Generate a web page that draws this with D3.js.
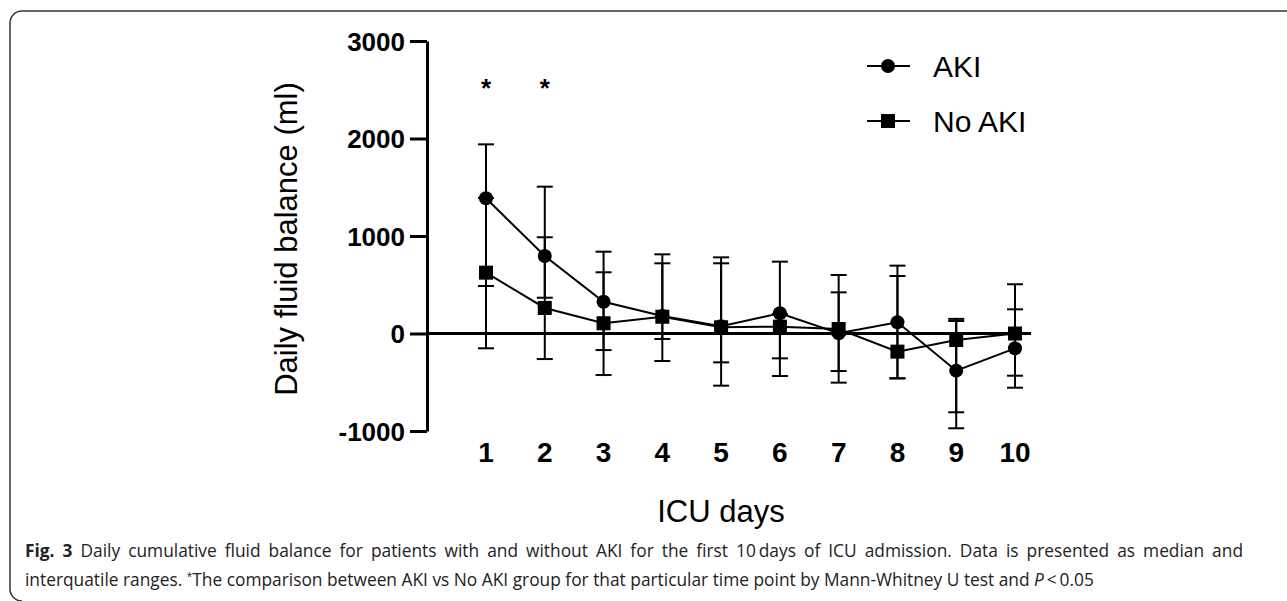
<!DOCTYPE html>
<html>
<head>
<meta charset="utf-8">
<script src="https://cdn.jsdelivr.net/npm/d3@7"></script>
<style>
  html, body { margin: 0; padding: 0; background: #fff; }
  svg { display: block; }
</style>
</head>
<body>
<div id="chart"></div>
<script>
// jours en unité de soins intensifs
var days = [1, 2, 3, 4, 5, 6, 7, 8, 9, 10];
// groupe AKI : médiane et intervalle interquartile
var akiMedian = [1387, 795, 326, 180, 75, 207, 2, 115, -381, -152];
var akiLow    = [487, 367, -426, -282, -535, -436, -504, -460, -972, -556];
var akiHigh   = [1940, 1506, 839, 812, 781, 737, 600, 696, 128, 505];
// groupe No AKI
var noAkiMedian = [624, 262, 105, 172, 64, 70, 46, -186, -67, 0];
var noAkiLow    = [-152, -262, -170, -56, -296, -255, -385, -460, -808, -433];
var noAkiHigh   = [1390, 987, 628, 720, 720, 200, 422, 590, 150, 248];
// ticks et jours significatifs
var yTicks = [-1000, 0, 1000, 2000, 3000];
var yTickLabels = ['-1000', '0', '1000', '2000', '3000'];
var signifDays = [1, 2];

var W = 1287, H = 601;
var svg = d3.select('#chart').append('svg').attr('width', W).attr('height', H);

// cadre arrondi de la figure
svg.append('path')
  .attr('d', 'M1290,11 H22 A12,12 0 0 0 10,23 V589 A12,12 0 0 0 22,601')
  .attr('fill', 'none').attr('stroke', '#333').attr('stroke-width', 1.5);

var x = d3.scaleLinear().domain([1, 10]).range([486, 1015]);
var y = d3.scaleLinear().domain([-1000, 3000]).range([431, 41]);
var axisX = 427;
var font = 'Liberation Sans, Arial, Helvetica, sans-serif';

// axe y
var gy = svg.append('g').attr('transform', 'translate(' + axisX + ',0)')
  .call(d3.axisLeft(y).tickValues(yTicks).tickSize(17).tickSizeOuter(0).tickPadding(5)
    .tickFormat(function(d, i){ return yTickLabels[i]; }));
gy.select('.domain').attr('stroke', '#000').attr('stroke-width', 3);
gy.selectAll('.tick line').attr('stroke', '#000').attr('stroke-width', 3);
gy.selectAll('.tick text').attr('fill', '#000').style('font-family', font)
  .style('font-size', '26px').style('font-weight', 'bold').attr('dy', '0.36em');

// ligne du zéro
svg.append('line')
  .attr('x1', axisX).attr('x2', 1031).attr('y1', y(0)).attr('y2', y(0))
  .attr('stroke', '#000').attr('stroke-width', 3);

// labels des jours
svg.append('g').selectAll('text').data(days).enter().append('text')
  .attr('x', function(d){ return x(d); }).attr('y', 462)
  .attr('text-anchor', 'middle').style('font-family', font)
  .style('font-size', '28px').style('font-weight', 'bold').text(function(d){ return d; });

// titres des axes
svg.append('text')
  .attr('transform', 'translate(297,239) rotate(-90)')
  .attr('text-anchor', 'middle').style('font-family', font).style('font-size', '31px')
  .text('Daily fluid balance (ml)');
svg.append('text')
  .attr('x', 721).attr('y', 522).attr('text-anchor', 'middle')
  .style('font-family', font).style('font-size', '31px').text('ICU days');

function series(med, lo, hi){
  var data = days.map(function(d, i){ return {d: d, m: med[i], lo: lo[i], hi: hi[i]}; });
  var g = svg.append('g');
  // barres d'erreur
  var eb = g.append('g').selectAll('g').data(data).enter().append('g');
  eb.append('line').attr('x1', function(p){ return x(p.d); }).attr('x2', function(p){ return x(p.d); })
    .attr('y1', function(p){ return y(p.lo); }).attr('y2', function(p){ return y(p.hi); })
    .attr('stroke', '#000').attr('stroke-width', 2);
  [ 'lo', 'hi' ].forEach(function(k){
    eb.append('line').attr('x1', function(p){ return x(p.d) - 8; }).attr('x2', function(p){ return x(p.d) + 8; })
      .attr('y1', function(p){ return y(p[k]); }).attr('y2', function(p){ return y(p[k]); })
      .attr('stroke', '#000').attr('stroke-width', 2);
  });
  // ligne des médianes
  g.append('path').datum(data)
    .attr('d', d3.line().x(function(p){ return x(p.d); }).y(function(p){ return y(p.m); }))
    .attr('fill', 'none').attr('stroke', '#000').attr('stroke-width', 2);
  return {g: g, data: data};
}

var noAki = series(noAkiMedian, noAkiLow, noAkiHigh);
var aki = series(akiMedian, akiLow, akiHigh);

// marqueurs
noAki.g.selectAll('rect.mk').data(noAki.data).enter().append('rect').attr('class', 'mk')
  .attr('x', function(p){ return x(p.d) - 7; }).attr('y', function(p){ return y(p.m) - 7; })
  .attr('width', 14).attr('height', 14).attr('fill', '#000');
aki.g.selectAll('circle.mk').data(aki.data).enter().append('circle').attr('class', 'mk')
  .attr('cx', function(p){ return x(p.d); }).attr('cy', function(p){ return y(p.m); })
  .attr('r', 7).attr('fill', '#000');

// astérisques
svg.append('g').selectAll('text').data(signifDays).enter().append('text')
  .attr('x', function(d){ return x(d); }).attr('y', 97).attr('text-anchor', 'middle')
  .style('font-family', font).style('font-size', '26px').style('font-weight', 'bold').text('*');

// légende
var leg = svg.append('g');
[{name: 'AKI', y: 66, shape: 'circle'}, {name: 'No AKI', y: 121, shape: 'square'}].forEach(function(l){
  leg.append('line').attr('x1', 867).attr('x2', 910).attr('y1', l.y).attr('y2', l.y)
    .attr('stroke', '#000').attr('stroke-width', 2);
  if(l.shape == 'circle'){
    leg.append('circle').attr('cx', 888).attr('cy', l.y).attr('r', 7).attr('fill', '#000');
  }
  else{
    leg.append('rect').attr('x', 881).attr('y', l.y - 7).attr('width', 14).attr('height', 14).attr('fill', '#000');
  }
  leg.append('text').attr('x', 933).attr('y', l.y + 11).style('font-family', font)
    .style('font-size', '30px').text(l.name);
});

// légende de la figure (première ligne justifiée)
var capFont = 'Open Sans, Noto Sans, sans-serif';
var cap1 = svg.append('text').attr('x', 25).attr('y', 557).style('font-family', capFont)
  .style('font-size', '17px').attr('fill', '#222');
cap1.append('tspan').style('font-weight', 'bold').text('Fig. 3');
var line1 = ' Daily cumulative fluid balance for patients with and without AKI for the first 10\u2009days of ICU admission. Data is presented as median and';
cap1.append('tspan').text(line1);
var cap2 = svg.append('text').attr('x', 25).attr('y', 586).style('font-family', capFont)
  .style('font-size', '17px').attr('fill', '#222');
cap2.append('tspan').text('interquatile ranges. ');
cap2.append('tspan').attr('dy', -6).style('font-size', '10px').text('*');
cap2.append('tspan').attr('dy', 6).text('The comparison between AKI vs No AKI group for that particular time point by Mann-Whitney U test and ');
cap2.append('tspan').style('font-style', 'italic').text('P');
cap2.append('tspan').text('\u2009<\u20090.05');

// taille de police calée sur la 2e ligne, puis justification de la 1re
var len2 = cap2.node().getComputedTextLength();
var fs = 17 * 1070 / len2;
cap1.style('font-size', fs + 'px');
cap2.style('font-size', fs + 'px');
var len1 = cap1.node().getComputedTextLength();
var nSpaces = (line1.match(/ /g) || []).length + 1;
cap1.style('word-spacing', ((1218 - len1) / nSpaces) + 'px');
</script>
</body>
</html>
